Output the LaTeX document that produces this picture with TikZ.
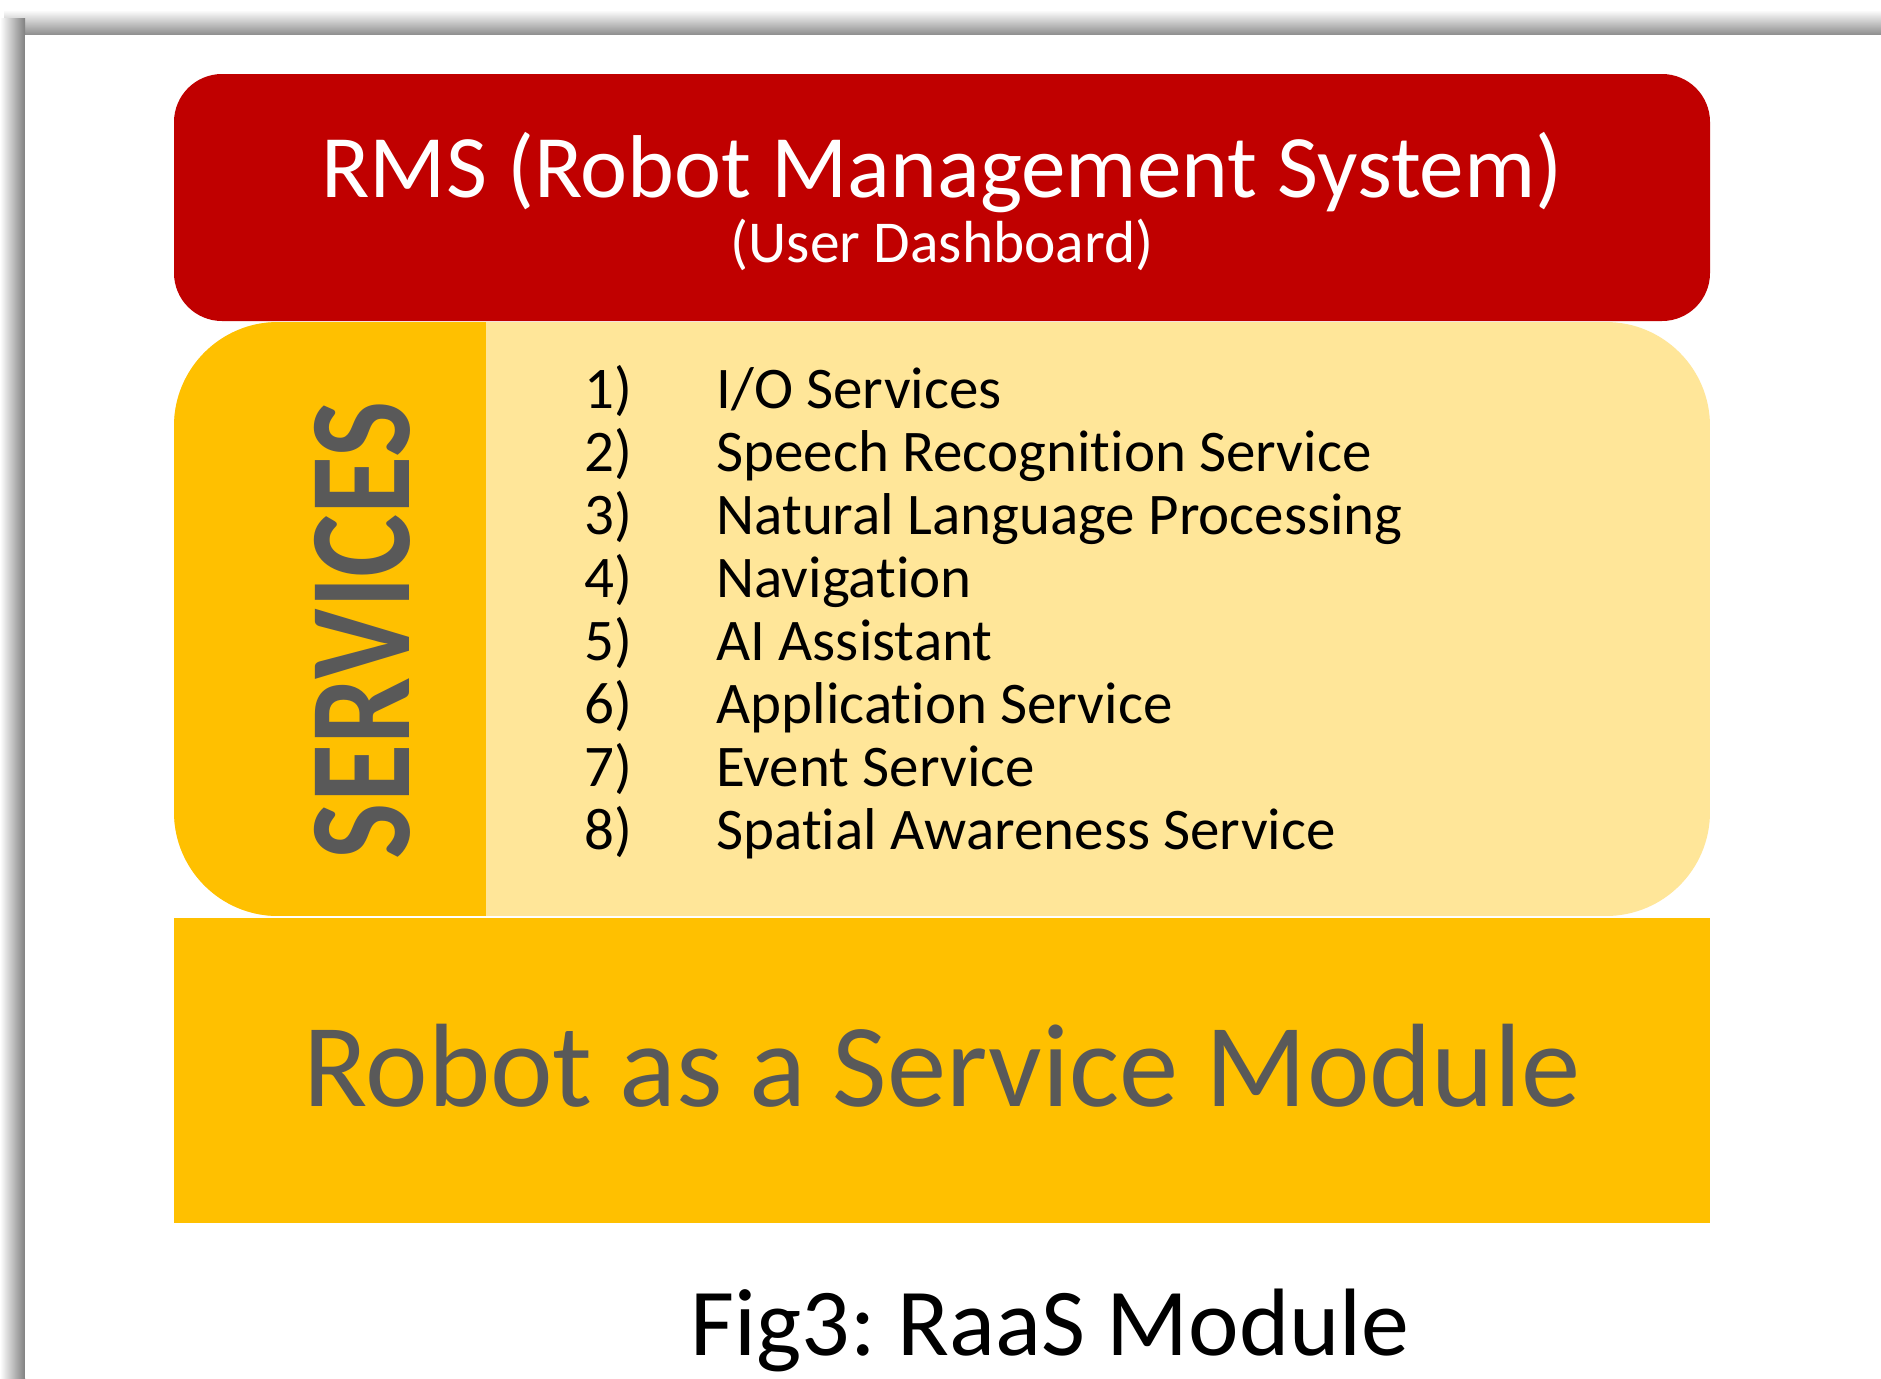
\documentclass[tikz,border=0pt]{standalone}
\usepackage{fontspec}
\setmainfont{Carlito}[Ligatures={NoCommon}]
\usetikzlibrary{positioning}
\definecolor{rmsred}{HTML}{C00000}
\definecolor{svcgold}{HTML}{FFC000}
\definecolor{svclight}{HTML}{FFE699}
\definecolor{txtgray}{HTML}{595959}
\frenchspacing

\begin{document}
\begin{tikzpicture}[
x=0.5pt, y=-0.5pt,
title/.style={text=white, inner sep=0pt, anchor=base},
item/.style={inner sep=0pt, anchor=base west, font=\fontsize{29.5}{30}\selectfont},
big/.style={inner sep=0pt, anchor=base}
]
\useasboundingbox (0,0) rectangle (1881,1378);
% page edge with its shadow
\fill[white] (0,0) rectangle (1881,1378);
\shade[top color=white, bottom color=black!45] (4,10) rectangle (1881,35);
\shade[left color=white, right color=black!50] (0,18) rectangle (25,1378);
\fill[white] (25,35) rectangle (1881,1378);

% RMS bar
\fill[rmsred, rounded corners=24pt] (174,74) rectangle (1710,321);
\node[title, font=\fontsize{44.6}{45}\selectfont] (rms) at (942,197) {RMS (Robot Management System)};
\node[title, font=\fontsize{29.7}{30}\selectfont] (dash) at (942,262) {(User Dashboard)};

% services block
\begin{scope}
\clip[rounded corners=52pt] (174,322) rectangle (1710,916);
\fill[svclight] (174,322) rectangle (1710,916);
\fill[svcgold] (174,322) rectangle (486,916);
\end{scope}
\node[rotate=90, inner sep=0pt, text=txtgray, font=\bfseries\fontsize{59.5}{60}\selectfont] (svc) at (362,630) {\scalebox{1}[1.22]{SERVICES}};

\foreach \n/\txt [count=\i from 0] in {1/{I/O Services}, 2/Speech Recognition Service,
    3/Natural Language Processing, 4/Navigation, 5/AI Assistant,
    6/Application Service, 7/Event Service, 8/Spatial Awareness Service}{
  \node[item] (n\n) at (584,408+63*\i) {\n)};
  \node[item] (s\n) at (716,408+63*\i) {\txt};
}

% RaaS block
\fill[svcgold] (174,918) rectangle (1710,1223);
\node[big, text=txtgray, font=\fontsize{59.3}{60}\selectfont] (raas) at (942,1106) {Robot as a Service Module};

% caption
\node[big, font=\fontsize{47.9}{48}\selectfont] (caption) at (1050,1355) {Fig3: RaaS Module};
\end{tikzpicture}
\end{document}
